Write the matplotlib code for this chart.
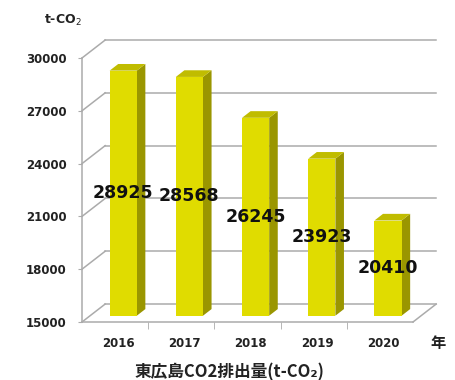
import numpy as np
import matplotlib.pyplot as plt
from matplotlib.patches import Polygon

# 東広島 CO2 emissions by year
years = ['2016', '2017', '2018', '2019', '2020']
emissions = [28925, 28568, 26245, 23923, 20410]
y_ticks = [15000, 18000, 21000, 24000, 27000, 30000]

y_min, y_max = 15000, 30000

# oblique "3D" depth offset (category units, value units)
dx, dy = 0.35, 1020
bar_w = 0.41
f0, f1 = 0.35, 0.72      # front / back of the bars as fraction of depth

front_col = '#E0DC00'
side_col = '#9A9600'
top_col = '#C0BC00'
grid_col = '#ABABAB'

W, H = 456, 380
fig = plt.figure(figsize=(W / 100, H / 100), dpi=100)
ax = fig.add_axes([82 / W, 58 / H, 331 / W, 264 / H])
ax.set_xlim(0, len(years))
ax.set_ylim(y_min, y_max)
ax.set_facecolor('none')

# back wall gridlines + left wall diagonals
for v in y_ticks:
    ax.plot([dx, len(years) + dx], [v + dy, v + dy], color=grid_col, lw=1.1,
            clip_on=False, zorder=1)
    ax.plot([0, dx], [v, v + dy], color=grid_col, lw=1.1, clip_on=False, zorder=1)
# right edge of the floor
ax.plot([len(years), len(years) + dx], [y_min, y_min + dy], color=grid_col, lw=1.1,
        clip_on=False, zorder=1)

# bars
for i, v in enumerate(emissions):
    xl = i + 0.5 - bar_w / 2 + f0 * dx
    xr = xl + bar_w
    yb = y_min + f0 * dy
    yt = v + f0 * dy
    ddx, ddy = (f1 - f0) * dx, (f1 - f0) * dy
    ax.add_patch(Polygon([(xr, yb), (xr + ddx, yb + ddy), (xr + ddx, yt + ddy), (xr, yt)],
                         closed=True, facecolor=side_col, edgecolor='none',
                         clip_on=False, zorder=3))
    ax.add_patch(Polygon([(xl, yt), (xr, yt), (xr + ddx, yt + ddy), (xl + ddx, yt + ddy)],
                         closed=True, facecolor=top_col, edgecolor='none',
                         clip_on=False, zorder=3))
    ax.add_patch(Polygon([(xl, yb), (xr, yb), (xr, yt), (xl, yt)],
                         closed=True, facecolor=front_col, edgecolor='none',
                         clip_on=False, zorder=4))
    ax.text((xl + xr) / 2, (y_min + v) / 2 + f0 * dy, f'{v}', ha='center', va='center',
            fontsize=12.5, fontweight='bold', color='#111111', zorder=6)

# axes
for s in ['top', 'right']:
    ax.spines[s].set_visible(False)
for s in ['left', 'bottom']:
    ax.spines[s].set_color(grid_col)
    ax.spines[s].set_linewidth(1.1)

ax.set_yticks(y_ticks)
ax.set_yticklabels([str(t) for t in y_ticks])
ax.tick_params(axis='y', length=3, color=grid_col, pad=8, labelsize=8.5)
for lab in ax.get_yticklabels():
    lab.set_fontweight('bold')
    lab.set_color('#222222')

ax.set_xticks(np.arange(len(years)) + 0.55)
ax.set_xticklabels(years)
ax.set_xticks(np.arange(1, len(years)), minor=True)
ax.tick_params(axis='x', which='major', length=0, pad=11, labelsize=8.5)
ax.tick_params(axis='x', which='minor', length=5, color=grid_col)
for lab in ax.get_xticklabels():
    lab.set_fontweight('bold')
    lab.set_color('#222222')

cjk = ['Noto Sans CJK JP', 'DejaVu Sans']
fig.text(63 / W, 1 - 20 / H, 't-CO$_2$', ha='center', va='center', fontsize=9,
         fontweight='bold', color='#222222')
fig.text(438 / W, 1 - 343 / H, '年', ha='center', va='center', fontsize=11,
         fontweight='bold', family=cjk, color='#222222')
fig.text(229 / W, 1 - 372 / H, '東広島CO2排出量(t-CO₂)', ha='center', va='center',
         fontsize=12, fontweight='bold', family=cjk, color='#222222')

fig.savefig('out.png', dpi=100)
